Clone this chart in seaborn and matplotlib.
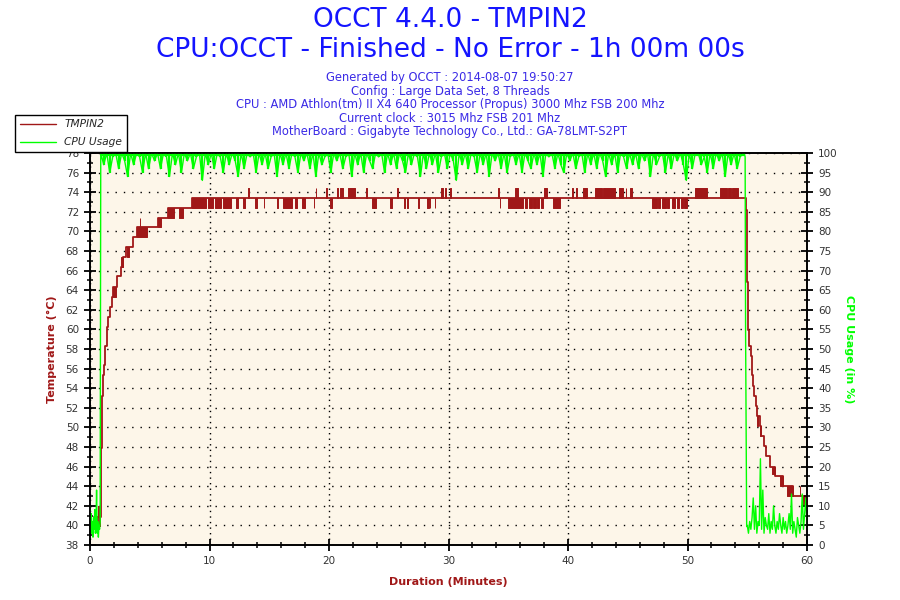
import numpy as np
import matplotlib
matplotlib.use("Agg")
import matplotlib.pyplot as plt
import seaborn as sb
from matplotlib.lines import Line2D
from matplotlib.ticker import MultipleLocator

sb.set_style("ticks")
plt.rcParams['font.family'] = ['DejaVu Sans']

RED = "#a01818"
GREEN = "#00ff00"
BLUE = "#1414ff"
INFO = "#3a2ae6"

# temperature steps (minutes, degC), drawn as steps-post
temp_t = [0.0, 0.35, 0.45, 0.55, 0.62, 0.7, 0.75, 0.78, 0.82, 0.86, 0.9, 0.97,
          1.05, 1.15, 1.28, 1.42, 1.53, 1.65, 1.81, 1.95, 2.23, 2.59, 2.79,
          3.0, 3.63, 3.96, 5.72, 6.5, 8.56, 54.9, 54.95, 55.06, 55.17, 55.29,
          55.4, 55.45, 55.6, 55.73, 55.84, 56.03, 56.16, 56.4, 56.57, 56.9,
          57.3, 58.0, 58.86, 60.0]
temp_v = [39.9, 40.9, 39.9, 40.9, 39.9, 40.9, 41.9, 40.9, 39.9, 40.9, 47.9, 53.2,
          55.3, 56.4, 58.3, 60.2, 61.3, 62.3, 63.3, 64.3, 65.4, 66.4, 67.4,
          68.4, 69.4, 70.4, 71.4, 72.4, 73.4, 72.2, 64.8, 59.9, 58.3, 57.3,
          55.3, 54.2, 53.2, 52.2, 51.2, 50.1, 49.1, 48.1, 47.1, 46.0,
          45.0, 44.0, 43.0, 43.0]

# intervals where the reading keeps jumping between two levels
flick_start = [1.95, 2.59, 3.07, 3.96, 4.16, 5.72, 6.5, 7.48,
               8.56, 9.9, 10.46, 11.16, 12.2, 12.78, 13.8, 14.54, 15.65, 16.18,
               17.15, 17.7, 18.72, 20.08, 23.57, 25.1, 26.3, 26.5, 27.45, 28.17,
               28.43, 28.85, 34.28, 34.95, 36.4, 36.75, 37.05, 37.4, 37.75,
               38.72, 47.0, 47.5, 47.84, 48.3, 48.67, 49.09, 49.43, 49.71,
               13.23, 18.88, 19.75, 20.64, 20.92, 21.6, 23.1, 25.7, 29.37, 29.74,
               30.13, 34.15, 35.56, 38.02, 40.3, 40.67, 41.23, 42.26, 42.96, 44.3,
               44.83, 45.2, 50.63, 52.72, 53.42, 53.7,
               55.78, 56.03, 57.1, 57.74, 58.3, 59.38, 59.7]
flick_end = [2.18, 2.79, 3.29, 4.74, 4.2, 5.94, 7.06, 7.76,
             9.7, 10.27, 11.0, 11.77, 12.4, 12.97, 13.95, 14.58, 15.69, 16.88,
             17.35, 18.0, 18.76, 20.22, 23.93, 25.25, 26.4, 26.64, 27.49, 28.37,
             28.47, 28.89, 34.32, 36.26, 36.6, 36.95, 37.3, 37.55, 37.93,
             39.33, 47.42, 47.7, 48.2, 48.47, 48.95, 49.31, 49.6, 49.93,
             13.27, 18.92, 19.86, 20.78, 21.2, 22.18, 23.2, 25.74, 29.57, 29.78,
             30.17, 34.19, 35.84, 38.21, 40.45, 40.78, 41.56, 42.82, 43.93, 44.63,
             44.87, 45.33, 51.6, 53.28, 53.61, 54.25,
             55.9, 56.16, 57.3, 58.0, 58.86, 59.42, 60.0]
flick_lo = [63.3, 66.4, 67.4, 69.4, 70.4, 70.4, 71.4, 71.4] + [72.4] * 38 + \
           [73.4] * 26 + [50.1, 49.1, 45.2, 44.0, 43.0, 43.0, 42.0]
flick_hi = [64.3, 67.4, 68.4, 70.4, 71.4, 71.4, 72.4, 72.4] + [73.4] * 38 + \
           [74.4] * 26 + [51.2, 50.1, 46.0, 45.0, 44.0, 44.0, 43.0]

# CPU usage (%)
cpu_start = [10, 4, 8, 3, 6, 2, 7, 4, 9, 3, 5, 14, 3, 6, 2, 5, 4, 6]  # every 0.05 min from 0
cpu_load = [100, 97, 100, 95, 99, 100, 96, 100, 98, 94, 100, 97, 100, 99, 95, 100, 96, 100, 98, 100,
            96, 100, 99, 94, 100, 97, 100, 95, 100, 98, 100, 96, 99, 100, 93, 100, 97, 100, 96, 100,
            99, 95, 100, 97, 100, 98, 94, 100, 96, 100, 99, 100, 95, 100, 97, 100, 96, 99, 100, 94,
            100, 97, 100, 96, 100, 99, 95, 100, 98, 100, 96, 100, 94, 100, 97, 99, 100, 95, 100, 98,
            100, 96, 99, 100, 94, 100, 97, 100, 95, 100, 98, 96, 100, 99, 100, 95, 100, 97, 100, 96,
            100, 98, 95, 100, 97, 100, 99, 94, 100, 96, 100, 97, 100, 95, 99, 100, 96, 100, 98, 93,
            100, 97, 100, 96, 100, 99, 95, 100, 97, 100, 94, 100, 98, 100, 96, 100, 95, 99, 100, 97,
            100, 95, 100, 98, 96, 100, 97, 100, 94, 100, 99, 100, 96, 100, 97, 95, 100, 98, 100, 96,
            99, 100, 95, 100, 97, 100, 96, 100, 98, 94, 100, 97, 100, 95, 100, 99, 96, 100, 97, 100,
            96, 100, 98, 100, 94, 100, 97, 99, 100, 95, 100, 96, 100, 98, 100, 97, 93, 100, 96, 100,
            100, 97, 99, 95, 100, 96, 100, 98, 100, 94, 100, 97, 100, 96, 99, 100]  # every 0.25 min from 0.9
cpu_drop_t = [54.75, 54.82, 54.86, 54.95]
cpu_drop_v = [100, 99, 53.4, 4.7]
cpu_end = [5, 3, 6, 4, 7, 12, 4, 10, 3, 6, 5, 22, 4, 14, 3, 7, 5, 4, 8, 3,
           6, 4, 10, 5, 3, 6, 4, 8, 5, 3, 7, 4, 6, 3, 5, 8, 4, 13, 3, 6,
           4, 2, 7, 5, 3, 6, 13, 4, 8, 12, 5]  # every 0.1 min from 55.0

load_t = 0.9 + 0.25 * np.arange(len(cpu_load))
cpu_t = np.concatenate([0.05 * np.arange(len(cpu_start)),
                        load_t,
                        cpu_drop_t,
                        55.0 + 0.1 * np.arange(len(cpu_end))])
cpu_v = np.concatenate([cpu_start, cpu_load, cpu_drop_v, cpu_end])

fig = plt.figure(figsize=(9, 6), dpi=100)
fig.patch.set_facecolor("white")
ax = fig.add_axes([0.1, 0.0917, 0.7967, 0.6533])
ax.set_facecolor("#fdf6e9")
ax2 = ax.twinx()

# temperature
for s, e, lo, hi in zip(flick_start, flick_end, flick_lo, flick_hi):
    ax.fill_between([s, e], [lo, lo], [hi, hi], color=RED, lw=0.7, zorder=3)
sb.lineplot(x=temp_t, y=temp_v, ax=ax, color=RED, lw=1.3, drawstyle="steps-post",
            estimator=None, sort=False, zorder=3)

# cpu usage
sb.lineplot(x=cpu_t, y=cpu_v, ax=ax2, color=GREEN, lw=1.0, estimator=None, sort=False)
ax2.vlines(load_t, cpu_load, 100, color=GREEN, lw=1.6)
ax2.axhline(99.6, xmin=0.9 / 60, xmax=54.75 / 60, color=GREEN, lw=1.6)

ax.set_xlim(0, 60)
ax.set_ylim(38, 78)
ax2.set_ylim(0, 100)

ax.xaxis.set_major_locator(MultipleLocator(10))
ax.xaxis.set_minor_locator(MultipleLocator(2))
ax.yaxis.set_major_locator(MultipleLocator(2))
ax.yaxis.set_minor_locator(MultipleLocator(1))
ax2.yaxis.set_major_locator(MultipleLocator(5))
ax2.yaxis.set_minor_locator(MultipleLocator(2.5))

for a in (ax, ax2):
    a.tick_params(which="major", direction="inout", length=9, width=1.3,
                  labelsize=7.5, labelcolor="#333333", color="black")
    a.tick_params(which="minor", direction="inout", length=5, width=1.1, color="black")
    for sp in a.spines.values():
        sp.set_color("black")
        sp.set_linewidth(1.2)

ax.grid(axis="y", which="major", color="black", linestyle=(0, (1, 5)), lw=1.0)
ax.grid(axis="x", which="major", color="black", linestyle=(0, (1, 3)), lw=1.0)
ax.set_axisbelow(True)

ax.set_xlabel("Duration (Minutes)", color=RED, fontsize=8, fontweight="bold", labelpad=8)
ax.set_ylabel("Temperature (°C)", color=RED, fontsize=8, fontweight="bold", labelpad=6)
ax2.set_ylabel("CPU Usage (in %)", color=GREEN, fontsize=8, fontweight="bold",
               rotation=270, labelpad=12)

# titles
fig.text(0.5, 0.966, "OCCT 4.4.0 - TMPIN2", ha="center", va="center", color=BLUE, fontsize=19)
fig.text(0.5, 0.916, "CPU:OCCT - Finished - No Error - 1h 00m 00s", ha="center", va="center",
         color=BLUE, fontsize=19)
info = ["Generated by OCCT : 2014-08-07 19:50:27",
        "Config : Large Data Set, 8 Threads",
        "CPU : AMD Athlon(tm) II X4 640 Processor (Propus) 3000 Mhz FSB 200 Mhz",
        "Current clock : 3015 Mhz FSB 201 Mhz",
        "MotherBoard : Gigabyte Technology Co., Ltd.: GA-78LMT-S2PT"]
for i, line in enumerate(info):
    fig.text(0.5, 0.871 - i * 0.0227, line, ha="center", va="center", color=INFO, fontsize=8.3)

handles = [Line2D([], [], color=RED, lw=1), Line2D([], [], color=GREEN, lw=1)]
leg = fig.legend(handles, ["TMPIN2", "CPU Usage"], loc="upper left",
                 bbox_to_anchor=(0.017, 0.808), fontsize=7.7, frameon=True, fancybox=False,
                 edgecolor="black", framealpha=1, handlelength=3.4, borderpad=0.4,
                 labelspacing=0.75, borderaxespad=0)
leg.get_frame().set_linewidth(1.0)
for t in leg.get_texts():
    t.set_fontstyle("italic")

fig.savefig("out.png", dpi=100)
